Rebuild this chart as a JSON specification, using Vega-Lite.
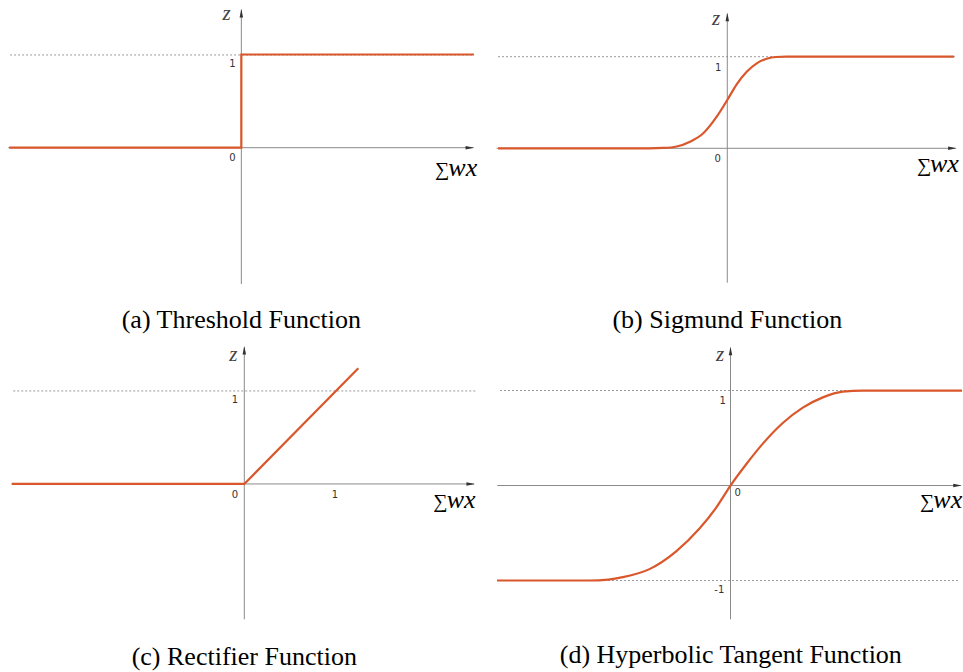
{
 "$schema": "https://vega.github.io/schema/vega-lite/v6.json",
 "padding": 0,
 "background": "white",
 "bounds": "flush",
 "spacing": 0,
 "columns": 2,
 "config": {"view": {"stroke": null}},
 "data": {"values": [
  {"p":"a","k":"guide","x":-2.50,"y":1,"x2":2.515,"y2":1},
  {"p":"a","k":"axis","x":-2.519,"y":0,"x2":2.51,"y2":0},
  {"p":"a","k":"axis","x":0,"y":-1.470,"x2":0,"y2":1.49},
  {"p":"a","k":"up","x":0,"y":1.496},
  {"p":"a","k":"right","x":2.516,"y":0},
  {"p":"a","k":"curve","i":0,"x":-2.51,"y":0},
  {"p":"a","k":"curve","i":1,"x":0,"y":0},
  {"p":"a","k":"curve","i":2,"x":0,"y":1.005},
  {"p":"a","k":"curve","i":3,"x":2.515,"y":1.005},
  {"p":"a","k":"tick","x":-0.097,"y":0.903,"t":"1"},
  {"p":"a","k":"tick","x":-0.097,"y":-0.114,"t":"0"},
  {"p":"a","k":"z","x":-0.158,"y":1.442,"t":"z"},
  {"p":"a","k":"sum","x":2.094,"y":-0.300,"t":"∑"},
  {"p":"a","k":"wx","x":2.238,"y":-0.300,"t":"wx"},
  {"p":"a","k":"cap","x":0,"y":-1.859,"t":"(a) Threshold Function"},

  {"p":"b","k":"guide","x":-2.492,"y":1,"x2":2.475,"y2":1},
  {"p":"b","k":"axis","x":-2.507,"y":0,"x2":2.48,"y2":0},
  {"p":"b","k":"axis","x":0,"y":-1.467,"x2":0,"y2":1.47},
  {"p":"b","k":"up","x":0,"y":1.480},
  {"p":"b","k":"right","x":2.493,"y":0},
  {"p":"b","k":"curve","i":0,"x":-2.492,"y":0},
  {"p":"b","k":"curve","i":1,"x":-0.860,"y":0},
  {"p":"b","k":"curve","i":2,"x":-0.696,"y":0.004},
  {"p":"b","k":"curve","i":3,"x":-0.550,"y":0.020},
  {"p":"b","k":"curve","i":4,"x":-0.405,"y":0.072},
  {"p":"b","k":"curve","i":5,"x":-0.261,"y":0.164},
  {"p":"b","k":"curve","i":6,"x":-0.115,"y":0.345},
  {"p":"b","k":"curve","i":7,"x":0,"y":0.527},
  {"p":"b","k":"curve","i":8,"x":0.102,"y":0.699},
  {"p":"b","k":"curve","i":9,"x":0.211,"y":0.836},
  {"p":"b","k":"curve","i":10,"x":0.320,"y":0.928},
  {"p":"b","k":"curve","i":11,"x":0.428,"y":0.978},
  {"p":"b","k":"curve","i":12,"x":0.530,"y":0.997},
  {"p":"b","k":"curve","i":13,"x":0.640,"y":1.0},
  {"p":"b","k":"curve","i":14,"x":2.464,"y":1.0},
  {"p":"b","k":"tick","x":-0.098,"y":0.880,"t":"1"},
  {"p":"b","k":"tick","x":-0.104,"y":-0.117,"t":"0"},
  {"p":"b","k":"z","x":-0.123,"y":1.408,"t":"z"},
  {"p":"b","k":"sum","x":2.062,"y":-0.264,"t":"∑"},
  {"p":"b","k":"wx","x":2.203,"y":-0.264,"t":"wx"},
  {"p":"b","k":"cap","x":0,"y":-1.874,"t":"(b) Sigmund Function"},

  {"p":"c","k":"guide","x":-2.525,"y":1,"x2":2.540,"y2":1},
  {"p":"c","k":"axis","x":-2.542,"y":0,"x2":2.51,"y2":0},
  {"p":"c","k":"axis","x":0,"y":-1.455,"x2":0,"y2":1.47},
  {"p":"c","k":"up","x":0,"y":1.484},
  {"p":"c","k":"right","x":2.521,"y":0},
  {"p":"c","k":"curve","i":0,"x":-2.542,"y":0},
  {"p":"c","k":"curve","i":1,"x":0,"y":0},
  {"p":"c","k":"curve","i":2,"x":1.246,"y":1.244},
  {"p":"c","k":"tick","x":-0.102,"y":0.903,"t":"1"},
  {"p":"c","k":"tick","x":-0.102,"y":-0.118,"t":"0"},
  {"p":"c","k":"tick","x":0.991,"y":-0.118,"t":"1"},
  {"p":"c","k":"z","x":-0.120,"y":1.387,"t":"z"},
  {"p":"c","k":"sum","x":2.066,"y":-0.258,"t":"∑"},
  {"p":"c","k":"wx","x":2.212,"y":-0.258,"t":"wx"},
  {"p":"c","k":"cap","x":0,"y":-1.857,"t":"(c) Rectifier Function"},

  {"p":"d","k":"guide","x":-2.452,"y":1,"x2":2.473,"y2":1},
  {"p":"d","k":"guide","x":-2.452,"y":-1,"x2":2.441,"y2":-1},
  {"p":"d","k":"axis","x":-2.481,"y":0,"x2":2.45,"y2":0},
  {"p":"d","k":"axis","x":0,"y":-1.408,"x2":0,"y2":1.45},
  {"p":"d","k":"up","x":0,"y":1.461},
  {"p":"d","k":"right","x":2.460,"y":0},
  {"p":"d","k":"curve","i":0,"x":-2.484,"y":-1.0},
  {"p":"d","k":"curve","i":1,"x":-1.500,"y":-1.0},
  {"p":"d","k":"curve","i":2,"x":-1.300,"y":-0.99},
  {"p":"d","k":"curve","i":3,"x":-1.146,"y":-0.965},
  {"p":"d","k":"curve","i":4,"x":-0.862,"y":-0.880},
  {"p":"d","k":"curve","i":5,"x":-0.578,"y":-0.693},
  {"p":"d","k":"curve","i":6,"x":-0.330,"y":-0.453},
  {"p":"d","k":"curve","i":7,"x":-0.152,"y":-0.232},
  {"p":"d","k":"curve","i":8,"x":0,"y":0},
  {"p":"d","k":"curve","i":9,"x":0.167,"y":0.224},
  {"p":"d","k":"curve","i":10,"x":0.344,"y":0.441},
  {"p":"d","k":"curve","i":11,"x":0.556,"y":0.658},
  {"p":"d","k":"curve","i":12,"x":0.769,"y":0.820},
  {"p":"d","k":"curve","i":13,"x":0.982,"y":0.928},
  {"p":"d","k":"curve","i":14,"x":1.195,"y":0.989},
  {"p":"d","k":"curve","i":15,"x":1.407,"y":1.0},
  {"p":"d","k":"curve","i":16,"x":2.463,"y":1.0},
  {"p":"d","k":"tick","x":-0.083,"y":0.889,"t":"1"},
  {"p":"d","k":"tick","x":0.077,"y":-0.076,"t":"0"},
  {"p":"d","k":"tick","x":-0.119,"y":-1.1,"t":"-1"},
  {"p":"d","k":"z","x":-0.112,"y":1.374,"t":"z"},
  {"p":"d","k":"sum","x":2.016,"y":-0.237,"t":"∑"},
  {"p":"d","k":"wx","x":2.157,"y":-0.237,"t":"wx"},
  {"p":"d","k":"cap","x":0.003,"y":-1.784,"t":"(d) Hyperbolic Tangent Function"}
 ]},
 "concat": [
  {
   "width": 481, "height": 336,
   "transform": [{"filter": "datum.p == 'a'"}],
   "encoding": {
    "x": {"field": "x", "type": "quantitative", "scale": {"domain": [-2.609, 2.591], "nice": false, "zero": false}, "axis": null},
    "y": {"field": "y", "type": "quantitative", "scale": {"domain": [-2.031, 1.593], "nice": false, "zero": false}, "axis": null}
   },
   "layer": [
    {"transform": [{"filter": "datum.k == 'guide'"}], "mark": {"type": "rule", "color": "#9a9a9a", "strokeWidth": 1, "strokeDash": [2, 2]}, "encoding": {"x2": {"field": "x2"}, "y2": {"field": "y2"}}},
    {"transform": [{"filter": "datum.k == 'axis'"}], "mark": {"type": "rule", "color": "#8a8a8a", "strokeWidth": 1}, "encoding": {"x2": {"field": "x2"}, "y2": {"field": "y2"}}},
    {"transform": [{"filter": "datum.k == 'up'"}], "mark": {"type": "point", "shape": "M0,0L0.35,1.7L-0.35,1.7Z", "filled": true, "size": 100, "color": "#333333", "opacity": 1}},
    {"transform": [{"filter": "datum.k == 'right'"}], "mark": {"type": "point", "shape": "M0,0L-1.7,0.35L-1.7,-0.35Z", "filled": true, "size": 100, "color": "#333333", "opacity": 1}},
    {"transform": [{"filter": "datum.k == 'curve'"}], "mark": {"type": "line", "color": "#d9572b", "strokeWidth": 2.2}, "encoding": {"order": {"field": "i", "type": "quantitative"}}},
    {"transform": [{"filter": "datum.k == 'tick'"}], "mark": {"type": "text", "font": "DejaVu Sans", "fontSize": 10, "color": "#333333", "align": "center", "baseline": "middle"}, "encoding": {"text": {"field": "t"}}},
    {"transform": [{"filter": "datum.k == 'z'"}], "mark": {"type": "text", "font": "Liberation Serif", "fontStyle": "italic", "fontSize": 21, "color": "#444444", "align": "center", "baseline": "middle"}, "encoding": {"text": {"field": "t"}}},
    {"transform": [{"filter": "datum.k == 'sum'"}], "mark": {"type": "text", "font": "Liberation Serif", "fontSize": 20, "color": "#000000", "align": "left", "baseline": "alphabetic"}, "encoding": {"text": {"field": "t"}}},
    {"transform": [{"filter": "datum.k == 'wx'"}], "mark": {"type": "text", "font": "Liberation Serif", "fontStyle": "italic", "fontSize": 26, "color": "#000000", "align": "left", "baseline": "alphabetic"}, "encoding": {"text": {"field": "t"}}},
    {"transform": [{"filter": "datum.k == 'cap'"}], "mark": {"type": "text", "font": "Liberation Serif", "fontSize": 26, "color": "#000000", "align": "center", "baseline": "middle"}, "encoding": {"text": {"field": "t"}}}
   ]
  },
  {
   "width": 482, "height": 336,
   "transform": [{"filter": "datum.p == 'b'"}],
   "encoding": {
    "x": {"field": "x", "type": "quantitative", "scale": {"domain": [-2.677, 2.562], "nice": false, "zero": false}, "axis": null},
    "y": {"field": "y", "type": "quantitative", "scale": {"domain": [-2.049, 1.619], "nice": false, "zero": false}, "axis": null}
   },
   "layer": [
    {"transform": [{"filter": "datum.k == 'guide'"}], "mark": {"type": "rule", "color": "#9a9a9a", "strokeWidth": 1, "strokeDash": [2, 2]}, "encoding": {"x2": {"field": "x2"}, "y2": {"field": "y2"}}},
    {"transform": [{"filter": "datum.k == 'axis'"}], "mark": {"type": "rule", "color": "#8a8a8a", "strokeWidth": 1}, "encoding": {"x2": {"field": "x2"}, "y2": {"field": "y2"}}},
    {"transform": [{"filter": "datum.k == 'up'"}], "mark": {"type": "point", "shape": "M0,0L0.35,1.7L-0.35,1.7Z", "filled": true, "size": 100, "color": "#333333", "opacity": 1}},
    {"transform": [{"filter": "datum.k == 'right'"}], "mark": {"type": "point", "shape": "M0,0L-1.7,0.35L-1.7,-0.35Z", "filled": true, "size": 100, "color": "#333333", "opacity": 1}},
    {"transform": [{"filter": "datum.k == 'curve'"}], "mark": {"type": "line", "color": "#d9572b", "strokeWidth": 2.2, "interpolate": "monotone"}, "encoding": {"order": {"field": "i", "type": "quantitative"}}},
    {"transform": [{"filter": "datum.k == 'tick'"}], "mark": {"type": "text", "font": "DejaVu Sans", "fontSize": 10, "color": "#333333", "align": "center", "baseline": "middle"}, "encoding": {"text": {"field": "t"}}},
    {"transform": [{"filter": "datum.k == 'z'"}], "mark": {"type": "text", "font": "Liberation Serif", "fontStyle": "italic", "fontSize": 21, "color": "#444444", "align": "center", "baseline": "middle"}, "encoding": {"text": {"field": "t"}}},
    {"transform": [{"filter": "datum.k == 'sum'"}], "mark": {"type": "text", "font": "Liberation Serif", "fontSize": 20, "color": "#000000", "align": "left", "baseline": "alphabetic"}, "encoding": {"text": {"field": "t"}}},
    {"transform": [{"filter": "datum.k == 'wx'"}], "mark": {"type": "text", "font": "Liberation Serif", "fontStyle": "italic", "fontSize": 26, "color": "#000000", "align": "left", "baseline": "alphabetic"}, "encoding": {"text": {"field": "t"}}},
    {"transform": [{"filter": "datum.k == 'cap'"}], "mark": {"type": "text", "font": "Liberation Serif", "fontSize": 26, "color": "#000000", "align": "center", "baseline": "middle"}, "encoding": {"text": {"field": "t"}}}
   ]
  },
  {
   "width": 481, "height": 336,
   "transform": [{"filter": "datum.p == 'c'"}],
   "encoding": {
    "x": {"field": "x", "type": "quantitative", "scale": {"domain": [-2.670, 2.587], "nice": false, "zero": false}, "axis": null},
    "y": {"field": "y", "type": "quantitative", "scale": {"domain": [-2.022, 1.591], "nice": false, "zero": false}, "axis": null}
   },
   "layer": [
    {"transform": [{"filter": "datum.k == 'guide'"}], "mark": {"type": "rule", "color": "#9a9a9a", "strokeWidth": 1, "strokeDash": [2, 2]}, "encoding": {"x2": {"field": "x2"}, "y2": {"field": "y2"}}},
    {"transform": [{"filter": "datum.k == 'axis'"}], "mark": {"type": "rule", "color": "#8a8a8a", "strokeWidth": 1}, "encoding": {"x2": {"field": "x2"}, "y2": {"field": "y2"}}},
    {"transform": [{"filter": "datum.k == 'up'"}], "mark": {"type": "point", "shape": "M0,0L0.35,1.7L-0.35,1.7Z", "filled": true, "size": 100, "color": "#333333", "opacity": 1}},
    {"transform": [{"filter": "datum.k == 'right'"}], "mark": {"type": "point", "shape": "M0,0L-1.7,0.35L-1.7,-0.35Z", "filled": true, "size": 100, "color": "#333333", "opacity": 1}},
    {"transform": [{"filter": "datum.k == 'curve'"}], "mark": {"type": "line", "color": "#d9572b", "strokeWidth": 2.2}, "encoding": {"order": {"field": "i", "type": "quantitative"}}},
    {"transform": [{"filter": "datum.k == 'tick'"}], "mark": {"type": "text", "font": "DejaVu Sans", "fontSize": 10, "color": "#333333", "align": "center", "baseline": "middle"}, "encoding": {"text": {"field": "t"}}},
    {"transform": [{"filter": "datum.k == 'z'"}], "mark": {"type": "text", "font": "Liberation Serif", "fontStyle": "italic", "fontSize": 21, "color": "#444444", "align": "center", "baseline": "middle"}, "encoding": {"text": {"field": "t"}}},
    {"transform": [{"filter": "datum.k == 'sum'"}], "mark": {"type": "text", "font": "Liberation Serif", "fontSize": 20, "color": "#000000", "align": "left", "baseline": "alphabetic"}, "encoding": {"text": {"field": "t"}}},
    {"transform": [{"filter": "datum.k == 'wx'"}], "mark": {"type": "text", "font": "Liberation Serif", "fontStyle": "italic", "fontSize": 26, "color": "#000000", "align": "left", "baseline": "alphabetic"}, "encoding": {"text": {"field": "t"}}},
    {"transform": [{"filter": "datum.k == 'cap'"}], "mark": {"type": "text", "font": "Liberation Serif", "fontSize": 26, "color": "#000000", "align": "center", "baseline": "middle"}, "encoding": {"text": {"field": "t"}}}
   ]
  },
  {
   "width": 482, "height": 336,
   "transform": [{"filter": "datum.p == 'd'"}],
   "encoding": {
    "x": {"field": "x", "type": "quantitative", "scale": {"domain": [-2.654, 2.473], "nice": false, "zero": false}, "axis": null},
    "y": {"field": "y", "type": "quantitative", "scale": {"domain": [-1.963, 1.574], "nice": false, "zero": false}, "axis": null}
   },
   "layer": [
    {"transform": [{"filter": "datum.k == 'guide'"}], "mark": {"type": "rule", "color": "#9a9a9a", "strokeWidth": 1, "strokeDash": [2, 2]}, "encoding": {"x2": {"field": "x2"}, "y2": {"field": "y2"}}},
    {"transform": [{"filter": "datum.k == 'axis'"}], "mark": {"type": "rule", "color": "#8a8a8a", "strokeWidth": 1}, "encoding": {"x2": {"field": "x2"}, "y2": {"field": "y2"}}},
    {"transform": [{"filter": "datum.k == 'up'"}], "mark": {"type": "point", "shape": "M0,0L0.35,1.7L-0.35,1.7Z", "filled": true, "size": 100, "color": "#333333", "opacity": 1}},
    {"transform": [{"filter": "datum.k == 'right'"}], "mark": {"type": "point", "shape": "M0,0L-1.7,0.35L-1.7,-0.35Z", "filled": true, "size": 100, "color": "#333333", "opacity": 1}},
    {"transform": [{"filter": "datum.k == 'curve'"}], "mark": {"type": "line", "color": "#d9572b", "strokeWidth": 2.2, "interpolate": "monotone"}, "encoding": {"order": {"field": "i", "type": "quantitative"}}},
    {"transform": [{"filter": "datum.k == 'tick'"}], "mark": {"type": "text", "font": "DejaVu Sans", "fontSize": 10, "color": "#333333", "align": "center", "baseline": "middle"}, "encoding": {"text": {"field": "t"}}},
    {"transform": [{"filter": "datum.k == 'z'"}], "mark": {"type": "text", "font": "Liberation Serif", "fontStyle": "italic", "fontSize": 21, "color": "#444444", "align": "center", "baseline": "middle"}, "encoding": {"text": {"field": "t"}}},
    {"transform": [{"filter": "datum.k == 'sum'"}], "mark": {"type": "text", "font": "Liberation Serif", "fontSize": 20, "color": "#000000", "align": "left", "baseline": "alphabetic"}, "encoding": {"text": {"field": "t"}}},
    {"transform": [{"filter": "datum.k == 'wx'"}], "mark": {"type": "text", "font": "Liberation Serif", "fontStyle": "italic", "fontSize": 26, "color": "#000000", "align": "left", "baseline": "alphabetic"}, "encoding": {"text": {"field": "t"}}},
    {"transform": [{"filter": "datum.k == 'cap'"}], "mark": {"type": "text", "font": "Liberation Serif", "fontSize": 26, "color": "#000000", "align": "center", "baseline": "middle"}, "encoding": {"text": {"field": "t"}}}
   ]
  }
 ]
}
